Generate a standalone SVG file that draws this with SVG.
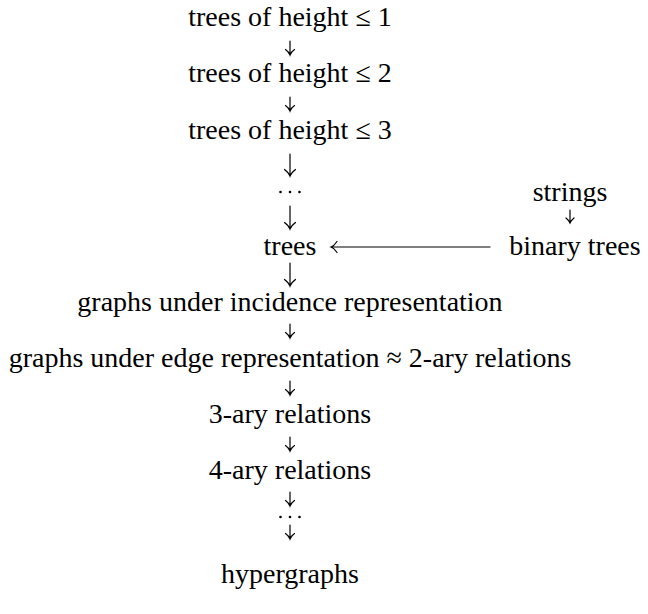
<svg xmlns="http://www.w3.org/2000/svg" width="648" height="614" viewBox="0 0 648 614">
<style>
text { font-family: "Liberation Serif", "DejaVu Serif", serif; font-size: 28px; fill: #000; text-anchor: middle; }
.arr { fill: none; stroke: #000; stroke-width: 1.2; stroke-linecap: round; }
.dot { fill: #000; }
</style>
<rect width="648" height="614" fill="#fff"/>
<g id="n1"><text x="290" y="26">trees of height ≤ 1</text></g>
<g id="n2"><text x="290" y="82">trees of height ≤ 2</text></g>
<g id="n3"><text x="290" y="139">trees of height ≤ 3</text></g>
<g id="n4"><circle class="dot" cx="280.5" cy="192" r="1.3"/><circle class="dot" cx="290" cy="192" r="1.3"/><circle class="dot" cx="299.5" cy="192" r="1.3"/></g>
<g id="n5"><text x="290" y="255">trees</text></g>
<g id="n6"><text x="570" y="201">strings</text></g>
<g id="n7"><text x="575" y="255">binary trees</text></g>
<g id="n8"><text x="290" y="311">graphs under incidence representation</text></g>
<g id="n9"><text x="290" y="367">graphs under edge representation ≈ 2-ary relations</text></g>
<g id="n10"><text x="290" y="423">3-ary relations</text></g>
<g id="n11"><text x="290" y="479">4-ary relations</text></g>
<g id="n12"><circle class="dot" cx="280.5" cy="517" r="1.3"/><circle class="dot" cx="290" cy="517" r="1.3"/><circle class="dot" cx="299.5" cy="517" r="1.3"/></g>
<g id="n13"><text x="290" y="583">hypergraphs</text></g>
<g id="connectors">
<path class="arr" d="M290,41 V55 M285.5,49.5 Q289,52 290,55 Q291,52 294.5,49.5"/>
<path class="arr" d="M290,97 V111 M285.5,105.5 Q289,108 290,111 Q291,108 294.5,105.5"/>
<path class="arr" d="M290,154 V176 M284.5,169.5 Q289,173 290,176 Q291,173 295.5,169.5"/>
<path class="arr" d="M290,206 V229 M284.5,222.5 Q289,226 290,229 Q291,226 295.5,222.5"/>
<path class="arr" d="M570,210 V223 M566,218 Q569,220.5 570,223 Q571,220.5 574,218"/>
<path class="arr" d="M490,247 H331 M337,241.5 Q334,246 331,247 Q334,248 337,252.5"/>
<path class="arr" d="M290,263 V286 M284.5,279.5 Q289,283 290,286 Q291,283 295.5,279.5"/>
<path class="arr" d="M290,324 V338 M285.5,332.5 Q289,335 290,338 Q291,335 294.5,332.5"/>
<path class="arr" d="M290,381 V395 M285.5,389.5 Q289,392 290,395 Q291,392 294.5,389.5"/>
<path class="arr" d="M290,437 V451 M285.5,445.5 Q289,448 290,451 Q291,448 294.5,445.5"/>
<path class="arr" d="M290,492 V506 M285.5,500.5 Q289,503 290,506 Q291,503 294.5,500.5"/>
<path class="arr" d="M290,525 V539 M285.5,533.5 Q289,536 290,539 Q291,536 294.5,533.5"/>
</g>
</svg>
